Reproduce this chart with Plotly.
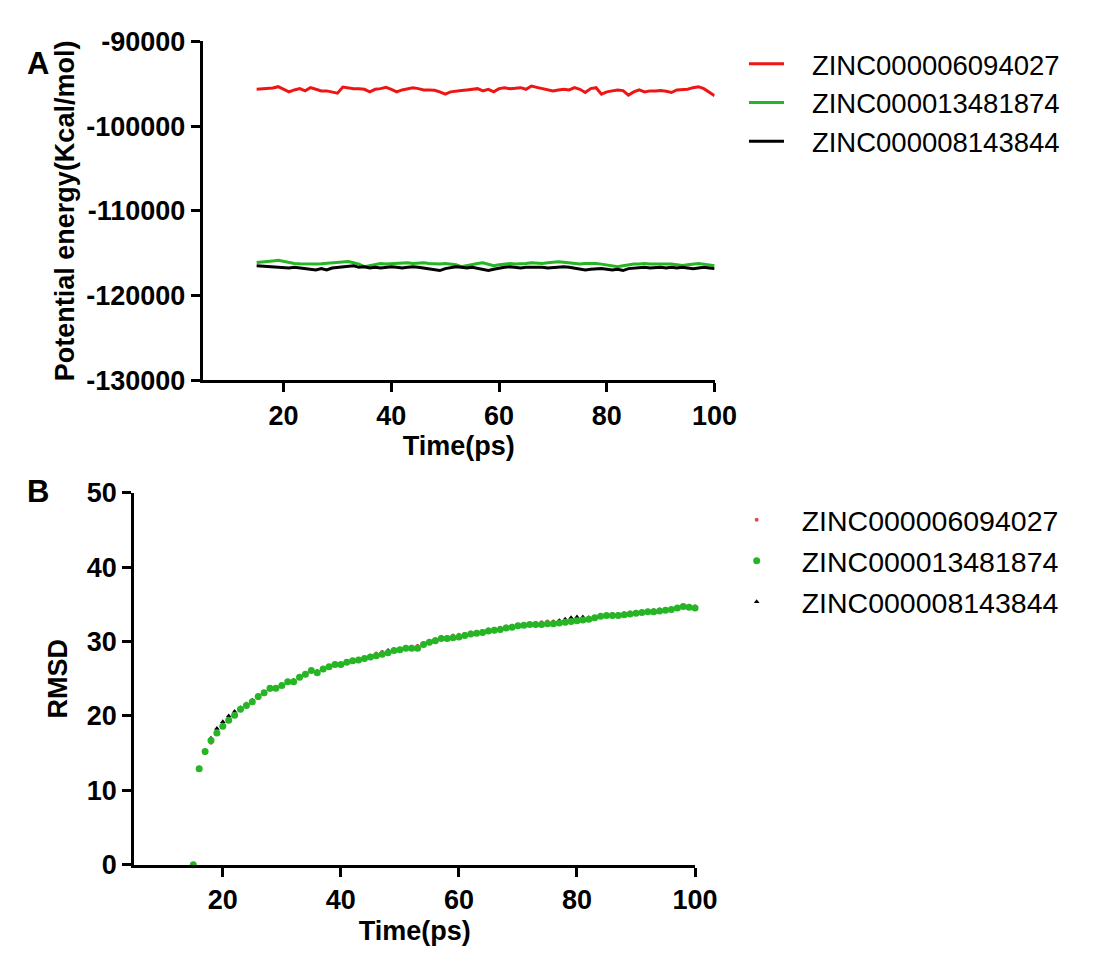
import plotly.graph_objects as go

time_ps = list(range(15, 101))

names = ["ZINC000006094027", "ZINC000013481874", "ZINC000008143844"]

energy_6094027 = [
    -95650, -95612, -95574, -95498, -95346, -95650, -95954, -95726, -95574, -95840,
    -95460, -95650, -95840, -95840, -95954, -96106, -95384, -95498, -95574, -95574,
    -95650, -95954, -95650, -95574, -95422, -95650, -95954, -95726, -95574, -95460,
    -95574, -95726, -95726, -95764, -95954, -96220, -95954, -95840, -95802, -95726,
    -95650, -95574, -95840, -95650, -95954, -95574, -95460, -95574, -95536, -95460,
    -95650, -95270, -95422, -95574, -95650, -95840, -95726, -95650, -95726, -95460,
    -95650, -96030, -95574, -95460, -96220, -95954, -95840, -95726, -95802, -96334,
    -95954, -95726, -95954, -95840, -95840, -95802, -95878, -96030, -95726, -95726,
    -95650, -95460, -95346, -95574, -96030, -96410]

energy_13481874 = [
    -116090, -116052, -115976, -115900, -115824, -115976, -116128, -116204, -116242, -116280,
    -116280, -116280, -116242, -116204, -116128, -116090, -116052, -115976, -116128, -116280,
    -116584, -116432, -116280, -116204, -116280, -116242, -116280, -116204, -116128, -116204,
    -116166, -116128, -116204, -116280, -116280, -116204, -116280, -116356, -116584, -116432,
    -116280, -116204, -116128, -116280, -116470, -116356, -116280, -116204, -116280, -116280,
    -116204, -116128, -116166, -116204, -116128, -116052, -116014, -116052, -116128, -116280,
    -116280, -116204, -116166, -116204, -116280, -116356, -116432, -116584, -116470, -116356,
    -116280, -116280, -116204, -116280, -116280, -116204, -116204, -116280, -116356, -116432,
    -116356, -116280, -116204, -116280, -116356, -116470]

energy_8143844 = [
    -116470, -116508, -116546, -116584, -116584, -116660, -116736, -116660, -116736, -116812,
    -116888, -116964, -116812, -116964, -116736, -116660, -116584, -116508, -116470, -116660,
    -116584, -116736, -116660, -116736, -116660, -116584, -116660, -116736, -116660, -116584,
    -116660, -116736, -116812, -116888, -117040, -116812, -116660, -116584, -116660, -116736,
    -116660, -116812, -116888, -117040, -116888, -116736, -116660, -116584, -116660, -116736,
    -116660, -116660, -116584, -116660, -116736, -116660, -116660, -116584, -116660, -116736,
    -116850, -116964, -116888, -116850, -116812, -116888, -116964, -116888, -117040, -116812,
    -116736, -116736, -116660, -116736, -116660, -116660, -116736, -116660, -116736, -116660,
    -116736, -116812, -116736, -116660, -116736, -116812]

rmsd_6094027 = [
    0, 12.9, 15.0, 16.4, 17.6, 18.5, 19.3, 20.1, 20.8, 21.3,
    21.8, 22.4, 22.9, 23.5, 23.6, 24.0, 24.5, 24.7, 25.2, 25.6,
    26.0, 25.9, 26.3, 26.6, 26.9, 27.0, 27.2, 27.4, 27.6, 27.8,
    28.1, 28.4, 28.6, 28.7, 28.9, 29.0, 29.2, 29.3, 29.4, 29.8,
    30.0, 30.3, 30.6, 30.6, 30.8, 30.9, 31.0, 31.2, 31.3, 31.4,
    31.6, 31.7, 31.8, 32.0, 32.1, 32.2, 32.3, 32.4, 32.5, 32.6,
    32.7, 32.7, 32.8, 32.9, 33.0, 33.0, 33.1, 33.2, 33.3, 33.5,
    33.6, 33.7, 33.7, 33.8, 33.9, 34.0, 34.0, 34.1, 34.2, 34.3,
    34.3, 34.4, 34.5, 34.7, 34.8, 34.7]

rmsd_13481874 = [
    0, 12.9, 15.2, 16.7, 17.7, 18.6, 19.4, 20.1, 20.9, 21.4,
    21.9, 22.6, 23.1, 23.7, 23.7, 24.1, 24.6, 24.6, 25.2, 25.6,
    26.1, 25.8, 26.3, 26.6, 26.9, 26.9, 27.2, 27.4, 27.5, 27.7,
    27.9, 28.1, 28.3, 28.5, 28.8, 28.9, 29.1, 29.1, 29.1, 29.6,
    29.9, 30.1, 30.4, 30.4, 30.5, 30.6, 30.8, 31.0, 31.1, 31.2,
    31.4, 31.5, 31.6, 31.8, 31.9, 32.1, 32.2, 32.3, 32.3, 32.3,
    32.4, 32.4, 32.5, 32.6, 32.7, 32.8, 32.9, 33.0, 33.2, 33.4,
    33.5, 33.5, 33.5, 33.6, 33.7, 33.8, 33.9, 34.0, 34.0, 34.1,
    34.2, 34.3, 34.5, 34.7, 34.6, 34.5]

rmsd_8143844 = [
    0, 13.0, 15.3, 17.0, 18.3, 19.2, 20.0, 20.6, 21.1, 21.6,
    22.1, 22.6, 23.1, 23.6, 23.8, 24.2, 24.6, 24.8, 25.3, 25.7,
    26.0, 26.0, 26.2, 26.5, 26.8, 26.9, 27.2, 27.4, 27.6, 27.8,
    28.0, 28.2, 28.5, 28.8, 28.9, 29.0, 29.1, 29.2, 29.3, 29.6,
    29.9, 30.1, 30.3, 30.4, 30.5, 30.7, 30.9, 31.0, 31.1, 31.2,
    31.4, 31.6, 31.8, 31.9, 32.0, 32.1, 32.2, 32.3, 32.3, 32.4,
    32.5, 32.6, 32.8, 33.0, 33.2, 33.3, 33.3, 33.2, 33.2, 33.3,
    33.4, 33.5, 33.6, 33.6, 33.7, 33.8, 33.9, 34.0, 34.1, 34.1,
    34.2, 34.3, 34.4, 34.6, 34.7, 34.6]

x_ticks = [20, 40, 60, 80, 100]
energy_ticks = [-90000, -100000, -110000, -120000, -130000]
energy_tick_text = ["-90000", "-100000", "-110000", "-120000", "-130000"]
rmsd_ticks = [0, 10, 20, 30, 40, 50]

RED = "#ee1515"
GREEN = "#25b525"
BLACK = "#000000"
FONT = "Liberation Sans, Arial, sans-serif"

# The page adds an 8px body margin on every side; a 1079x953 figure fills the
# 1095x969 window exactly, drawn 8px right/down from the window corner.
OFF = 8
W, H = 1095 - 2 * OFF, 969 - 2 * OFF
NB = "\u00a0\u00a0\u00a0"  # gap between legend line sample and its text


def px_x(p):
    return (p - OFF) / W


def px_y(p):
    return 1 - (p - OFF) / H


fig = go.Figure()

# Panel A lines
for name, vals, col, grp in [(names[0], energy_6094027, RED, "a1"),
                             (names[1], energy_13481874, GREEN, "a2"),
                             (names[2], energy_8143844, BLACK, "a3")]:
    fig.add_trace(go.Scatter(x=time_ps, y=vals, mode="lines", name=NB + name,
                             line=dict(color=col, width=3),
                             xaxis="x", yaxis="y", legend="legend", legendgroup=grp))

# Panel B scatter (red, black drawn first; green on top)
b_specs = [
    (names[0], rmsd_6094027, "#e4484b", "circle", 4, "b1", 1),
    (names[2], rmsd_8143844, BLACK, "triangle-up", 5, "b3", 3),
    (names[1], rmsd_13481874, GREEN, "circle", 7, "b2", 2),
]
for name, vals, col, sym, sz, grp, rank in b_specs:
    fig.add_trace(go.Scatter(x=time_ps, y=vals, mode="markers", name=name,
                             marker=dict(color=col, symbol=sym, size=sz, line=dict(width=0)),
                             xaxis="x2", yaxis="y2", legend="legend2", legendgroup=grp,
                             legendrank=rank, cliponaxis=False))

axis_common = dict(showline=True, linecolor="black", linewidth=3, ticks="outside",
                   ticklen=9, tickwidth=3, tickcolor="black", showgrid=False, zeroline=False,
                   tickfont=dict(family=FONT, size=27, color="black", weight="bold"))
title_font = dict(family=FONT, size=27, weight="bold", color="black")

fig.update_layout(
    width=W, height=H,
    margin=dict(l=0, r=0, t=0, b=0),
    paper_bgcolor="white", plot_bgcolor="white",
    font=dict(family=FONT, color="black"),
    xaxis=dict(domain=[px_x(207), px_x(730)], range=[5, 100], tickvals=x_ticks,
               title=dict(text="Time(ps)", font=title_font, standoff=3),
               anchor="y", **axis_common),
    yaxis=dict(domain=[px_y(377), px_y(27)], range=[-130000, -90000], tickvals=energy_ticks,
               ticktext=energy_tick_text,
               title=dict(text="Potential energy(Kcal/mol)", font=title_font, standoff=4),
               anchor="x", **axis_common),
    xaxis2=dict(domain=[px_x(137), px_x(710)], range=[5, 100], tickvals=x_ticks,
                title=dict(text="Time(ps)", font=title_font, standoff=8),
                anchor="y2", **axis_common),
    yaxis2=dict(domain=[px_y(877), px_y(493)], range=[0, 50], tickvals=rmsd_ticks,
                title=dict(text="RMSD", font=title_font, standoff=12),
                anchor="x2", **axis_common),
    legend=dict(x=px_x(760), y=px_y(25), xanchor="left", yanchor="top",
                font=dict(family=FONT, size=27.5, color="black"),
                traceorder="grouped", tracegroupgap=0, itemwidth=35,
                bgcolor="rgba(0,0,0,0)", borderwidth=0),
    legend2=dict(x=px_x(727), y=px_y(495), xanchor="left", yanchor="top",
                 font=dict(family=FONT, size=28.5, color="black"),
                 traceorder="grouped", tracegroupgap=1, itemwidth=80,
                 bgcolor="rgba(0,0,0,0)", borderwidth=0),
    annotations=[
        dict(text="A", x=px_x(25), y=px_y(30), xref="paper", yref="paper",
             showarrow=False, font=dict(family=FONT, size=31, weight="bold", color="black")),
        dict(text="B", x=px_x(25), y=px_y(492), xref="paper", yref="paper",
             showarrow=False, font=dict(family=FONT, size=31, weight="bold", color="black")),
    ],
)

fig.write_html("out.html")
